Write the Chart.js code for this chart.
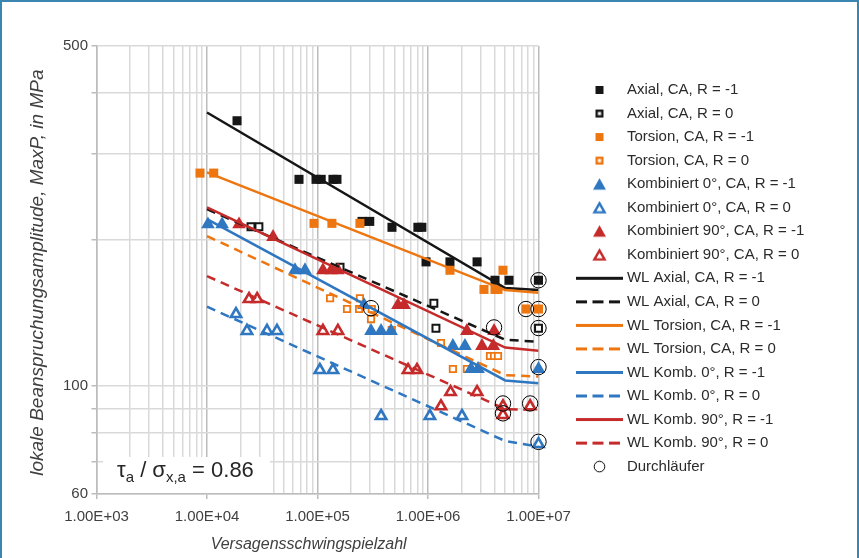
<!DOCTYPE html>
<html><head><meta charset="utf-8">
<script src="https://cdn.jsdelivr.net/npm/chart.js@4.4.1/dist/chart.umd.min.js"></script>
<style>
html,body{margin:0;padding:0;background:#fff;}
#wrap{position:relative;width:859px;height:558px;overflow:hidden;}
#c{position:absolute;left:0;top:0;}
#frame{position:absolute;left:0;top:0;width:859px;height:558px;box-sizing:border-box;border:2px solid #3b86b0;border-bottom:none;pointer-events:none;}
</style></head><body>
<div id="wrap"><canvas id="c" width="859" height="558"></canvas><div id="frame"></div></div>
<script>
// ---------- data (N = cycles to failure, S = local stress amplitude MaxP in MPa) ----------
const axialM1_N = [1.87e4, 6.8e4, 9.7e4, 1.08e5, 1.38e5, 1.50e5, 2.53e5, 2.97e5, 4.72e5, 8.1e5, 8.8e5, 9.6e5, 1.58e6, 2.78e6, 4.04e6, 5.41e6, 1e7];
const axialM1_S = [351, 266, 266, 266, 266, 266, 218, 218, 212, 212, 212, 180, 180, 180, 165, 165, 165];
const axial0_N = [2.5e4, 2.95e4, 1.6e5, 1.13e6, 1.18e6, 1e7];
const axial0_S = [212.5, 212.5, 175.5, 148, 131.5, 131.5];
const torsM1_N = [8.64e3, 1.15e4, 9.3e4, 1.35e5, 2.42e5, 1.58e6, 4.77e6, 3.21e6, 4.04e6, 4.3e6, 7.7e6, 1e7];
const torsM1_S = [274, 274, 216, 216, 216, 173, 173, 158, 158, 158, 144, 144];
const tors0_N = [1.3e5, 1.85e5, 2.42e5, 2.38e5, 3.05e5, 3.1e5, 4.7e5, 1.31e6, 1.68e6, 2.25e6, 3.64e6, 3.96e6, 4.3e6];
const tors0_S = [151.5, 144, 151.5, 144, 137.3, 144, 130.4, 122.6, 108.4, 108.4, 115.3, 115.3, 115.3];
const komb0M1_N = [1.02e4, 1.37e4, 6.26e4, 7.71e4, 2.64e5, 3.05e5, 3.76e5, 4.63e5, 1.68e6, 2.16e6, 2.45e6, 2.84e6, 1e7];
const komb0M1_S = [215, 215, 173, 173, 146.7, 129.8, 129.8, 129.8, 120.9, 120.9, 108.4, 108.4, 108.4];
const komb00_N = [1.83e4, 2.3e4, 3.49e4, 4.3e4, 1.05e5, 1.38e5, 3.76e5, 1.04e6, 2.03e6, 1e7];
const komb00_S = [140.6, 129.8, 129.8, 129.8, 107.9, 107.9, 86.8, 86.8, 86.8, 76];
const komb90M1_N = [1.95e4, 3.96e4, 1.12e5, 1.33e5, 1.53e5, 5.35e5, 6.07e5, 2.25e6, 3.96e6, 3.08e6, 3.9e6];
const komb90M1_S = [215, 202.5, 173, 173, 173, 146.7, 146.7, 129.8, 129.8, 120.9, 120.9];
const komb900_N = [2.4e4, 2.84e4, 1.12e5, 1.53e5, 6.6e5, 7.95e5, 1.31e6, 1.6e6, 2.78e6, 4.77e6, 4.77e6, 8.4e6];
const komb900_S = [151, 151, 129.8, 129.8, 107.9, 107.9, 90.9, 97.2, 97.2, 90.9, 87.2, 90.9];
const runout_N = [1e7, 7.7e6, 1e7, 1e7, 1e7, 1e7, 3.96e6, 4.77e6, 4.77e6, 8.4e6, 3.05e5];
const runout_S = [165, 144, 144, 131.6, 109.4, 76.8, 132, 92.1, 87.9, 92.1, 144.6];

// Woehler lines (start, knee, end)
const wlN = [1e4, 5e6, 1e7];
const wlAxialM1 = [365, 159, 157.5];
const wlAxial0 = [231, 124.5, 123.3];
const wlTorsM1 = [275, 157.5, 155.5];
const wlTors0 = [203.4, 105.3, 104.6];
const wlKomb0M1 = [220.4, 102.7, 101.3];
const wlKomb00 = [145.6, 77.1, 75.1];
const wlKomb90M1 = [233, 120, 118.2];
const wlKomb900 = [168.3, 89.7, 89.3];

// ticks
const xMajor = [1e3, 1e4, 1e5, 1e6, 1e7];
const xTickLabels = ['1.00E+03', '1.00E+04', '1.00E+05', '1.00E+06', '1.00E+07'];
const yGrid = [60, 70, 80, 90, 100, 200, 300, 400, 500];
const yLabeled = [60, 100, 500];
const yTickLabels = ['60', '100', '500'];
const xTitle = 'Versagensschwingspielzahl';
const yTitle = 'lokale Beanspruchungsamplitude, MaxP, in MPa';

// ---------- styling ----------
const BLACK = '#161616', ORANGE = '#ee7611', BLUE = '#2f77c1', RED = '#c62b2b';
const FONT = '"Liberation Sans", Arial, sans-serif';
const NB = '\u00a0';
Chart.defaults.font.family = FONT;

const xGrid = [];
for (let d = 0; d < xMajor.length; d++) {
  for (let m = 1; m <= 9; m++) {
    const v = xMajor[d] * m;
    if (v <= xMajor[xMajor.length - 1]) xGrid.push(v);
  }
}
const isMajorX = v => xMajor.some(m => Math.abs(m - v) / m < 1e-9);

function pts(N, S) { return N.map((n, i) => ({x: n, y: S[i]})); }

function marker(label, N, S, style, color, radius, open, bw) {
  return {
    label, data: pts(N, S), showLine: false, clip: false, yAxisID: 'y',
    pointStyle: style, pointRadius: radius, pointHoverRadius: radius,
    pointBackgroundColor: open ? '#ffffff' : color,
    pointBorderColor: color, pointBorderWidth: open ? bw : 0
  };
}
function wl(label, S, color, dashed) {
  return {
    label, data: pts(wlN, S), showLine: true, yAxisID: 'y',
    borderColor: color, borderWidth: 2.5, borderDash: dashed ? [9, 6] : [],
    pointRadius: 0, pointHoverRadius: 0, fill: false, tension: 0
  };
}

const datasets = [
  marker('Axial, CA, R = -1', axialM1_N, axialM1_S, 'rect', BLACK, 6.4, false, 0),
  marker('Axial, CA, R = 0', axial0_N, axial0_S, 'rect', BLACK, 4.9, true, 2),
  marker('Torsion, CA, R = -1', torsM1_N, torsM1_S, 'rect', ORANGE, 6.4, false, 0),
  marker('Torsion, CA, R = 0', tors0_N, tors0_S, 'rect', ORANGE, 4.5, true, 1.8),
  marker('Kombiniert 0°, CA, R = -1', komb0M1_N, komb0M1_S, 'triangle', BLUE, 7.9, false, 0),
  marker('Kombiniert 0°, CA, R = 0', komb00_N, komb00_S, 'triangle', BLUE, 6, true, 2.6),
  marker('Kombiniert 90°, CA, R = -1', komb90M1_N, komb90M1_S, 'triangle', RED, 7.9, false, 0),
  marker('Kombiniert 90°, CA, R = 0', komb900_N, komb900_S, 'triangle', RED, 6, true, 2.6),
  wl('WL Axial, CA, R = -1', wlAxialM1, BLACK, false),
  wl('WL Axial, CA, R = 0', wlAxial0, BLACK, true),
  wl('WL Torsion, CA, R = -1', wlTorsM1, ORANGE, false),
  wl('WL Torsion, CA, R = 0', wlTors0, ORANGE, true),
  wl('WL Komb. 0°, R = -1', wlKomb0M1, BLUE, false),
  wl('WL Komb. 0°, R = 0', wlKomb00, BLUE, true),
  wl('WL Komb. 90°, R = -1', wlKomb90M1, RED, false),
  wl('WL Komb. 90°, R = 0', wlKomb900, RED, true),
  {
    label: 'Durchläufer', data: pts(runout_N, runout_S), showLine: false, clip: false, yAxisID: 'y',
    pointStyle: 'circle', pointRadius: 7.7, pointHoverRadius: 7.7,
    pointBackgroundColor: 'rgba(0,0,0,0)', pointBorderColor: '#000', pointBorderWidth: 1
  }
];
datasets.forEach((d, i) => { d.order = datasets.length - 1 - i; });

// ---------- legend glyphs ----------
function glyph(kind, color, dashed) {
  const c = document.createElement('canvas');
  let w = 10, h = 10;
  if (kind === 'line') { w = 47; h = 5; }
  else if (kind === 'tri' || kind === 'otri') { w = 15; h = 14; }
  else if (kind === 'circle') { w = 13; h = 13; }
  c.width = w; c.height = h;
  const g = c.getContext('2d');
  g.fillStyle = color; g.strokeStyle = color;
  if (kind === 'sq') { g.fillRect(1, 1, 8, 8); }
  else if (kind === 'osq') { g.fillStyle = '#fff'; g.fillRect(1, 1, 8, 8); g.lineWidth = 2.4; g.strokeRect(2.2, 2.2, 5.6, 5.6); }
  else if (kind === 'tri') { g.beginPath(); g.moveTo(7.5, 1); g.lineTo(14, 12.5); g.lineTo(1, 12.5); g.closePath(); g.fill(); }
  else if (kind === 'otri') { g.beginPath(); g.moveTo(7.5, 2.6); g.lineTo(12.6, 11.6); g.lineTo(2.4, 11.6); g.closePath(); g.fillStyle = '#fff'; g.fill(); g.lineWidth = 2.4; g.lineJoin = 'miter'; g.stroke(); }
  else if (kind === 'line') { g.lineWidth = 3; g.setLineDash(dashed ? [11, 5.5] : []); g.beginPath(); g.moveTo(0, 2.5); g.lineTo(47, 2.5); g.stroke(); }
  else if (kind === 'circle') { g.lineWidth = 1; g.strokeStyle = '#000'; g.beginPath(); g.arc(6.5, 6.5, 5.3, 0, Math.PI * 2); g.stroke(); }
  return c;
}
const glyphs = [
  glyph('sq', BLACK), glyph('osq', BLACK), glyph('sq', ORANGE), glyph('osq', ORANGE),
  glyph('tri', BLUE), glyph('otri', BLUE), glyph('tri', RED), glyph('otri', RED),
  glyph('line', BLACK, false), glyph('line', BLACK, true), glyph('line', ORANGE, false), glyph('line', ORANGE, true),
  glyph('line', BLUE, false), glyph('line', BLUE, true), glyph('line', RED, false), glyph('line', RED, true),
  glyph('circle', '#000')
];

// ---------- annotation box ----------
const ratioNote = {
  id: 'ratioNote',
  beforeDatasetsDraw(chart) {
    const {ctx, chartArea} = chart;
    const l = chartArea.left, b = chartArea.bottom;
    ctx.save();
    ctx.fillStyle = '#ffffff';
    ctx.fillRect(l + 6.5, b - 37, 167, 36);
    ctx.fillStyle = '#262626';
    ctx.textBaseline = 'alphabetic';
    ctx.textAlign = 'left';
    let x = l + 20.5;
    const base = b - 17;
    const big = '22px ' + FONT, small = '15px ' + FONT;
    const parts = [['τ', big, 0], ['a', small, 5], [' / σ', big, 0], ['x,a', small, 5], [' = 0.86', big, 0]];
    for (const [t, f, dy] of parts) {
      ctx.font = f;
      ctx.fillText(t, x, base + dy);
      x += ctx.measureText(t).width;
    }
    ctx.restore();
  }
};

new Chart(document.getElementById('c'), {
  type: 'scatter',
  data: {datasets},
  plugins: [ratioNote],
  options: {
    responsive: false, animation: false, devicePixelRatio: 1, events: [],
    layout: {padding: {left: 0, top: 46, right: 28.1, bottom: 0}},
    plugins: {
      tooltip: {enabled: false},
      legend: {
        position: 'right', align: 'start', maxWidth: 260,
        title: {display: true, text: '', padding: {top: 13.54, bottom: 0}, font: {size: 12, lineHeight: 1.2}},
        labels: {
          usePointStyle: true, pointStyleWidth: 40, boxHeight: 15, padding: 8.54,
          font: {size: 15, family: FONT}, color: '#2b2b2b',
          generateLabels: (chart) => chart.data.datasets.map((ds, i) => ({
            text: ds.label + (i === 6 ? NB.repeat(8) : ''), pointStyle: glyphs[i], datasetIndex: i, hidden: false,
            lineWidth: 0, fillStyle: 'rgba(0,0,0,0)', strokeStyle: 'rgba(0,0,0,0)', fontColor: '#2b2b2b'
          }))
        }
      }
    },
    scales: {
      x: {
        type: 'logarithmic', position: 'bottom', min: 1e3, max: 1e7,
        afterBuildTicks: s => { s.ticks = xGrid.map(v => ({value: v})); },
        afterFit: s => { s.height = 64; },
        ticks: {
          autoSkip: false, maxRotation: 0, minRotation: 0, padding: 9,
          font: {size: 15, lineHeight: 1.2}, color: '#404040',
          callback: (v) => { const k = xMajor.findIndex(m => Math.abs(m - v) / m < 1e-9); return k >= 0 ? xTickLabels[k] : ''; }
        },
        grid: {
          color: c => (c.tick && isMajorX(c.tick.value)) ? '#bcbcbc' : '#d9d9d9',
          tickColor: c => (c.tick && isMajorX(c.tick.value)) ? '#bcbcbc' : 'rgba(0,0,0,0)',
          lineWidth: 1.5, tickLength: 5, offset: false
        },
        border: {color: '#bcbcbc', width: 1.5},
        title: {display: true, text: xTitle + NB.repeat(4), color: '#404040', font: {size: 16, style: 'italic', lineHeight: 1.2}, padding: {top: 9.4, bottom: 3.4}}
      },
      y: {
        type: 'logarithmic', position: 'left', min: 60, max: 500,
        afterBuildTicks: s => { s.ticks = yGrid.map(v => ({value: v})); },
        afterFit: s => { s.width = 96.5; },
        ticks: {
          autoSkip: false, padding: 3.5, font: {size: 15, lineHeight: 1.2}, color: '#404040',
          callback: (v) => { const k = yLabeled.indexOf(Math.round(v)); return k >= 0 ? yTickLabels[k] : ''; }
        },
        grid: {color: '#d9d9d9', tickColor: '#bcbcbc', lineWidth: 1.5, tickLength: 5},
        border: {color: '#bcbcbc', width: 1.5},
        title: {display: true, text: yTitle + NB, color: '#404040', font: {size: 19, style: 'italic', lineHeight: 1.2}, padding: {top: 26.6, bottom: 0}}
      },
      y2: {
        type: 'linear', position: 'right', display: true,
        grid: {display: false, drawOnChartArea: false, drawTicks: false},
        border: {display: false}, ticks: {display: false},
        afterFit: s => { s.width = 32.4; }
      }
    }
  }
});
</script></body></html>
